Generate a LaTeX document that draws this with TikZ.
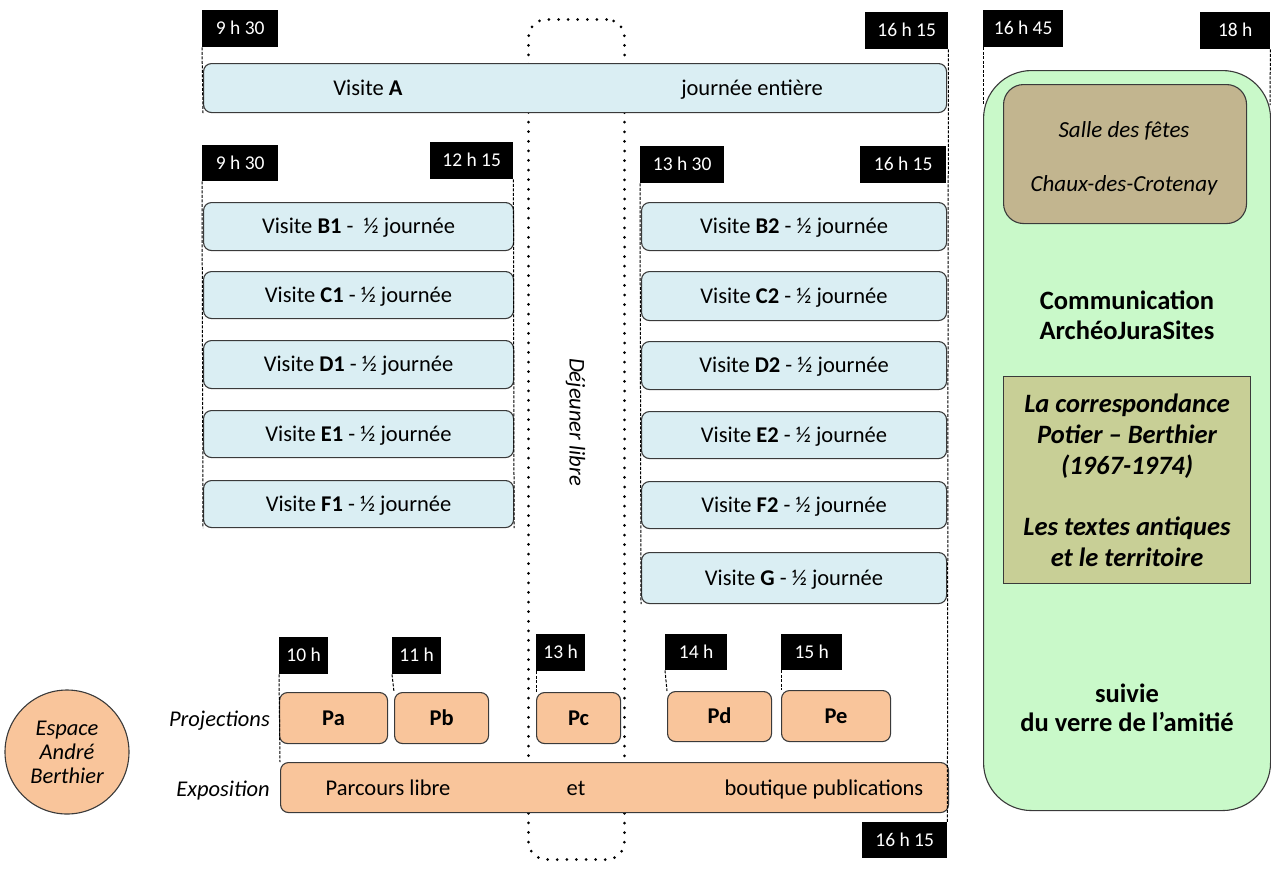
\documentclass[tikz,border=0pt]{standalone}
\usepackage{fontspec}
\setmainfont{Carlito}
\usetikzlibrary{positioning}
\definecolor{lblue}{HTML}{DAEEF3}
\definecolor{lorange}{HTML}{F9C59B}
\definecolor{lgreen}{HTML}{C9F9C9}
\definecolor{tan}{HTML}{C2B58F}
\definecolor{olive}{HTML}{C8CF96}
\definecolor{edge}{HTML}{3A3A3A}
\newcommand{\bx}[7]{\node[#2, minimum width={(#5-#3)*1pt}, minimum height={(#6-#4)*1pt}, inner sep=0pt, anchor=north west] (#1) at (#3,#4) {#7};}
\newcommand{\bodyfont}{\fontsize{22.5}{26}\selectfont}
\tikzset{
  vbox/.style={draw=edge, fill=lblue, line width=1.1pt, rounded corners=8pt, font=\bodyfont, text height=14.5pt, text depth=0.5pt},
  obox/.style={draw=edge, fill=lorange, line width=1.1pt, rounded corners=8pt, font=\bodyfont, text height=14.5pt, text depth=0.5pt},
  tlab/.style={fill=black, text=white, font=\fontsize{19.5}{22}\selectfont, text height=12.5pt, text depth=0.5pt},
  tline/.style={draw=black, line width=1pt, dash pattern=on 3pt off 1.5pt},
  plain/.style={inner sep=0pt, font=\bodyfont, text height=14.5pt, text depth=0.5pt},
}
\begin{document}
\begin{tikzpicture}[x=1pt,y=-1pt]
\useasboundingbox (0,0) rectangle (1271,873);
% dejeuner libre
\node[draw=black, line width=3pt, dash pattern=on 0pt off 9.6pt, line cap=round, rounded corners=18pt, minimum width=96pt, minimum height=840pt, inner sep=0pt, anchor=north west] (dej) at (527,18) {};
\node[plain, rotate=-90, font=\itshape\bodyfont] (dejt) at (dej.center |- 0,422) {Déjeuner libre};
% top row
\bx{tA1}{tlab}{202}{10}{278}{47}{9 h 30}
\bx{tA2}{tlab}{865}{12}{948}{49}{16 h 15}
\bx{A}{vbox}{203}{63}{946}{112}{}
\node[plain] (At) at (368,88) {Visite \textbf{A}};
\node[plain] (At2) at (752,88) {journée entière};
% morning
\bx{tB1}{tlab}{202}{145}{278}{181}{9 h 30}
\bx{tB2}{tlab}{430}{142}{513}{179}{12 h 15}
\bx{B1}{vbox}{203}{202}{513}{250}{Visite \textbf{B1} -\ \ ½ journée}
\bx{C1}{vbox}{203}{271}{513}{318}{Visite \textbf{C1} - ½ journée}
\bx{D1}{vbox}{203}{340}{513}{388}{Visite \textbf{D1} - ½ journée}
\bx{E1}{vbox}{203}{410}{513}{457}{Visite \textbf{E1} - ½ journée}
\bx{F1}{vbox}{203}{480}{513}{527}{Visite \textbf{F1} - ½ journée}
% afternoon
\bx{tC1}{tlab}{640}{146}{724}{183}{13 h 30}
\bx{tC2}{tlab}{860}{146}{946}{183}{16 h 15}
\bx{B2}{vbox}{641}{202}{946}{250}{Visite \textbf{B2} - ½ journée}
\bx{C2}{vbox}{641}{271}{946}{320}{Visite \textbf{C2} - ½ journée}
\bx{D2}{vbox}{641}{341}{946}{389}{Visite \textbf{D2} - ½ journée}
\bx{E2}{vbox}{641}{411}{946}{458}{Visite \textbf{E2} - ½ journée}
\bx{F2}{vbox}{641}{481}{946}{528}{Visite \textbf{F2} - ½ journée}
\bx{G}{vbox}{641}{552}{946}{603}{Visite \textbf{G} - ½ journée}
% projections
\bx{t10}{tlab}{279}{637}{328}{674}{10 h}
\bx{t11}{tlab}{392}{637}{441}{674}{11 h}
\bx{t13}{tlab}{536}{634}{585}{671}{13 h}
\bx{t14}{tlab}{665}{634}{727}{670}{14 h}
\bx{t15}{tlab}{781}{634}{842}{670}{15 h}
\bx{Pa}{obox}{279}{692}{387}{743}{\textbf{Pa}}
\bx{Pb}{obox}{394}{692}{488}{743}{\textbf{Pb}}
\bx{Pc}{obox}{536}{692}{620}{743}{\textbf{Pc}}
\bx{Pd}{obox}{667}{691}{771}{741}{\textbf{Pd}}
\bx{Pe}{obox}{781}{690}{890}{741}{\textbf{Pe}}
\bx{Ex}{obox}{280}{762}{948}{812}{}
\node[plain] (Ex1) at (388,788) {Parcours libre};
\node[plain] (Ex2) at (576,788) {et};
\node[plain] (Ex3) at (824,788) {boutique publications};
\node[plain, anchor=east, font=\itshape\bodyfont] (proj) at (270,719) {Projections};
\node[plain, anchor=east, font=\itshape\bodyfont] (expo) at (270,789) {Exposition};
\node[circle, draw=edge, fill=lorange, line width=1.1pt, minimum size=124pt, inner sep=0pt, align=center, font=\itshape\fontsize{22.5}{24}\selectfont] (esp) at (67,752) {Espace\\André\\Berthier};
\bx{tEnd}{tlab}{862}{822}{947}{858}{16 h 15}
% right column
\bx{tR1}{tlab}{983}{10}{1063}{47}{16 h 45}
\bx{tR2}{tlab}{1200}{12}{1270}{49}{18 h}
\bx{green}{draw=edge, fill=lgreen, line width=1.1pt, rounded corners=48pt}{983}{70}{1270}{810}{}
\bx{salle}{draw=edge, fill=tan, line width=1.1pt, rounded corners=20pt}{1003}{84}{1246}{223}{}
\node[plain, font=\itshape\fontsize{23}{26}\selectfont] (s1) at (1124,130) {Salle des fêtes};
\node[plain, font=\itshape\fontsize{23}{26}\selectfont] (s2) at (1124,184) {Chaux-des-Crotenay};
\node[inner sep=0pt, align=center, font=\bfseries\fontsize{26.5}{30}\selectfont] (comm) at (1127,315) {Communication\\ArchéoJuraSites};
\bx{corr}{draw=edge, fill=olive, line width=1.1pt, align=center, font=\bfseries\itshape\fontsize{26.5}{31}\selectfont}{1003}{376}{1250}{583}{La correspondance\\Potier -- Berthier\\(1967-1974)\\[30pt]Les textes antiques\\et le territoire}
\node[inner sep=0pt, align=center, font=\bfseries\fontsize{26.5}{29}\selectfont] (suiv) at (1127,708) {suivie\\du verre de l’amitié};
% time lines
\coordinate (gL) at (983,105);
\coordinate (gR) at (1270,105);
\draw[tline] (tA1.south west) -- (A.south west);
\draw[tline] (tA2.south east) -- (tEnd.north east);
\draw[tline] (tB1.south west) -- (F1.south west);
\draw[tline] (tB2.south east) -- (F1.south east);
\draw[tline] (tC1.south west) -- (G.south west);
\draw[tline] (tR1.south west) -- (gL);
\draw[tline] (tR2.south east) -- (gR);
\draw[tline] (t10.south west) -- (Ex.north west);
\draw[tline] (t11.south west) -- (Pb.north west);
\draw[tline] (t13.south west) -- (Pc.north west);
\draw[tline] (t14.south west) -- (Pd.north west);
\draw[tline] (t15.south west) -- (Pe.north west);
\end{tikzpicture}
\end{document}
